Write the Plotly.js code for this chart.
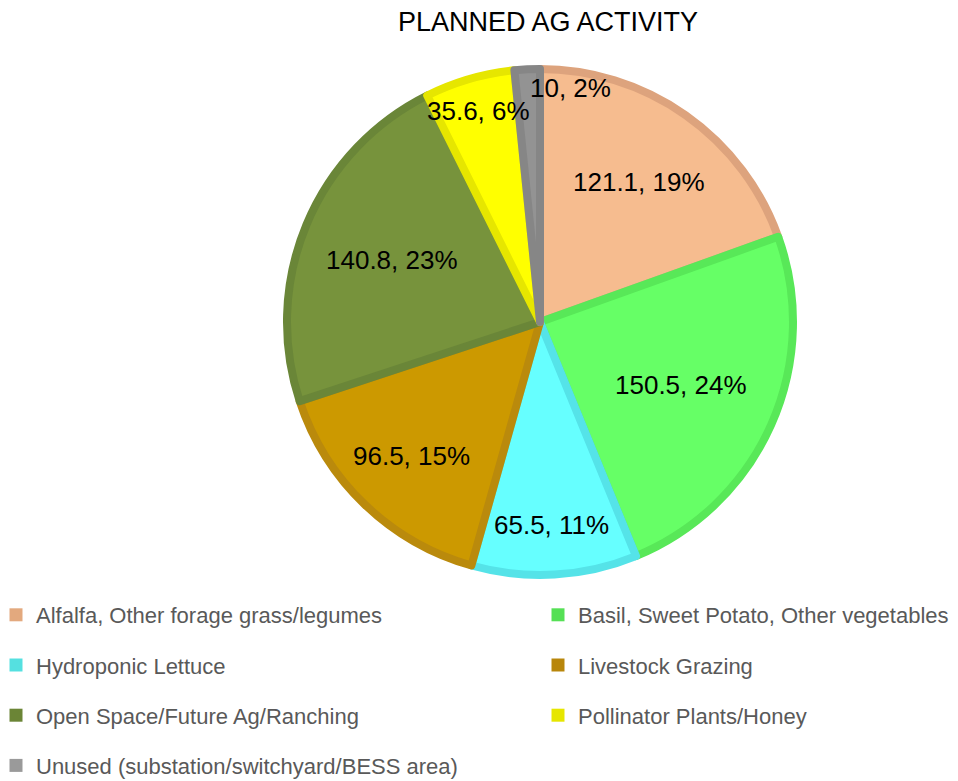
<!DOCTYPE html>
<html>
<head>
<meta charset="utf-8">
<script src="https://cdn.plot.ly/plotly-3.0.1.min.js"></script>
<style>html,body{margin:0;padding:0;background:#fff;}#chart{width:958px;height:781px;}</style>
</head>
<body>
<div id="chart"></div>
<script>
// ---- data ----
const labels = [
  "Alfalfa, Other forage grass/legumes",
  "Basil, Sweet Potato, Other vegetables",
  "Hydroponic Lettuce",
  "Livestock Grazing",
  "Open Space/Future Ag/Ranching",
  "Pollinator Plants/Honey",
  "Unused (substation/switchyard/BESS area)"
];
const values = [121.1, 150.5, 65.5, 96.5, 140.8, 35.6, 10];
const pctLabels = ["19%", "24%", "11%", "15%", "23%", "6%", "2%"];

// ---- styles ----
const fillColors = ["#F6BC8F", "#66FF66", "#66FFFF", "#CC9900", "#77933C", "#FFFF00", "#939393"];
const lineColors = ["#DDA37D", "#58E858", "#55E3E8", "#BA8A0C", "#6A8638", "#E6E600", "#868686"];
const legendColors = ["#E3A97E", "#55E055", "#55E0E0", "#B8860B", "#6B8536", "#E6E600", "#9A9A9A"];

const W = 958, H = 781;
const cx = 540, cy = 322, r = 253;
const domX = [(cx - r) / W, (cx + r) / W];
const domY = [(H - cy - r) / H, (H - cy + r) / H];

const pie = {
  type: "pie",
  labels: labels,
  values: values,
  sort: false,
  direction: "clockwise",
  rotation: 0,
  showlegend: false,
  marker: { colors: fillColors, line: { color: lineColors, width: 8 } },
  textinfo: "none",
  domain: { x: domX, y: domY },
  hoverinfo: "label+value"
};

// data labels: at each slice's mid-angle (derived from the values), on hidden axes aligned with the pie
const total = values.reduce((a, b) => a + b, 0);
let cum = 0;
const annotations = [];
values.forEach((v, i) => {
  const share = v / total;
  const theta = (cum + v / 2) / total * 2 * Math.PI;
  const f = 0.95 - 1.4 * share; // label radius rule: smaller slices get labels further out
  annotations.push({
    xref: "x", yref: "y",
    x: f * Math.sin(theta), y: f * Math.cos(theta),
    text: v + ", " + pctLabels[i],
    showarrow: false,
    xanchor: share < 0.03 ? "left" : "center",
    yanchor: "middle",
    font: { family: "Liberation Sans, Arial, sans-serif", size: 26, color: "#000000" }
  });
  cum += v;
});

// legend proxies (two columns)
const legendTraces = labels.map((l, i) => ({
  type: "scatter",
  mode: "markers",
  x: [null], y: [null],
  name: l,
  legend: i % 2 === 0 ? "legend" : "legend2",
  legendgroup: "g" + i,
  marker: { symbol: "square", size: 13, color: legendColors[i] },
  hoverinfo: "skip",
  showlegend: true
}));

const legendFont = { family: "Liberation Sans, Arial, sans-serif", size: 22, color: "#595959" };
const legendBase = {
  orientation: "v",
  font: legendFont,
  bgcolor: "rgba(0,0,0,0)",
  borderwidth: 0,
  tracegroupgap: 18.6,
  traceorder: "grouped",
  xanchor: "left",
  yanchor: "top",
  y: (H - 594) / H
};

const layout = {
  width: W,
  height: H,
  margin: { l: 0, r: 0, t: 0, b: 0, autoexpand: false },
  paper_bgcolor: "#ffffff",
  plot_bgcolor: "rgba(0,0,0,0)",
  title: {
    text: "PLANNED AG ACTIVITY",
    x: 548 / W, xanchor: "center",
    y: (H - 22) / H, yanchor: "middle", yref: "container",
    font: { family: "Liberation Sans, Arial, sans-serif", size: 27, color: "#000000" }
  },
  xaxis: { visible: false, domain: domX, range: [-1, 1], fixedrange: true },
  yaxis: { visible: false, domain: domY, range: [-1, 1], fixedrange: true },
  annotations: annotations,
  legend: Object.assign({}, legendBase, { x: -4 / W }),
  legend2: Object.assign({}, legendBase, { x: 538 / W })
};

Plotly.newPlot("chart", [pie].concat(legendTraces), layout, { displayModeBar: false, staticPlot: true });
</script>
</body>
</html>
